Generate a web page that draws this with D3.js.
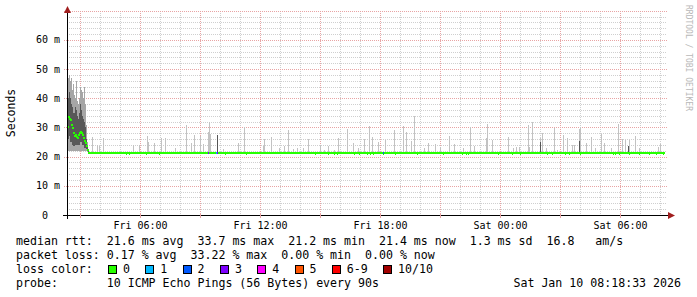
<!DOCTYPE html>
<html>
<head>
<meta charset="utf-8">
<script src="https://cdn.jsdelivr.net/npm/d3@7"></script>
<style>
body { margin: 0; background: #fff; }
text { font-family: "DejaVu Sans Mono", monospace; white-space: pre; }
</style>
</head>
<body>
<script>
// time is minutes after graph start (Fri 02:21), values in ms

// noisy first hour, one column every 3 minutes
var earlyTimes = [0, 3, 6, 9, 12, 15, 18, 21, 24, 27, 30, 33, 36, 39, 42, 45, 48, 51, 54, 57, 60, 63];
var earlyMax = [38, 47, 48, 46, 47, 43, 45, 41, 40, 46, 39, 38, 40, 44, 43, 42, 40, 44, 38, 31, 25, 22.5];
var earlyQ3 = [36, 40, 42, 40, 38, 37, 35, 35, 37, 36, 34, 33, 35, 38, 36, 34, 33, 32, 30, 26, 23.5, 22];
var earlyQ1 = [25, 26, 27, 25, 25, 24, 23.5, 23.5, 24, 24, 24, 24, 24, 25, 25, 24, 24, 23, 23, 22.5, 22, 21.5];
var earlyMin = [22, 22, 22, 22, 22, 22, 22, 22, 22, 22, 22, 22, 22, 22, 22, 22, 22, 22, 22, 22, 21.5, 21.3];
var earlyMedian = [30, 33.7, 33, 32.6, 31, 29.7, 28, 27, 27.5, 26.8, 26.5, 27.4, 28, 28.6, 28, 27.5, 26.3, 25.5, 24.6, 23.5, 22.3, 21.4];

// the long flat stretch
var flatMedian = 21.4;
var flatStart = 63;
var flatEnd = 1795;
var dipTimes = [176, 187, 237, 277, 474, 537, 744, 784, 801, 810, 862, 877, 899, 909, 919, 947, 984, 1049,
  1129, 1184, 1197, 1204, 1294, 1336, 1359, 1439, 1454, 1494, 1507, 1539, 1637, 1643, 1657, 1687, 1717,
  1747, 1767, 1787];
var dipMedian = 21.0;

// smoke spikes above the median
var spikeTimes = [74, 89, 97, 109, 197, 216, 240, 243, 261, 282, 294, 324, 358, 371, 382, 399, 408, 422, 425, 428,
  468, 513, 532, 587, 592, 612, 636, 652, 664, 677, 689, 709, 724, 759, 772, 784, 802, 814, 841, 857,
  874, 892, 907, 916, 934, 954, 981, 1009, 1017, 1032, 1042, 1072, 1082, 1104, 1120, 1147, 1162, 1189,
  1209, 1222, 1256, 1259, 1274, 1324, 1339, 1347, 1357, 1382, 1387, 1396, 1419, 1426, 1436, 1461, 1469,
  1487, 1501, 1514, 1521, 1536, 1539, 1557, 1571, 1584, 1602, 1611, 1632, 1652, 1666, 1675, 1685, 1705,
  1717, 1752, 1774, 1779];
var spikeTops = [26.6, 24.0, 23.5, 26.4, 23.9, 24.0, 27.2, 25.0, 24.8, 26.5, 26.3, 23.1, 30.9, 24.8, 27.4, 27.2, 24.5, 28.6, 31.8, 27.6,
  22.5, 24.6, 30.1, 23.7, 25.9, 26.8, 22.9, 23.8, 29.1, 22.5, 22.9, 23.1, 25.9, 24.0, 22.3, 23.8, 22.3, 26.3, 29.5, 24.6,
  23.1, 26.1, 30.5, 26.7, 25.1, 25.6, 29.0, 30.5, 28.3, 25.4, 33.9, 23.1, 24.8, 24.2, 23.4, 27.1, 24.2, 22.9,
  30.2, 23.8, 26.3, 31.2, 25.7, 26.6, 22.9, 23.4, 23.4, 30.9, 23.4, 31.8, 26.3, 28.0, 23.1, 29.7, 22.3,
  27.4, 26.3, 24.0, 24.0, 29.5, 30.3, 24.6, 26.6, 22.9, 27.8, 24.8, 22.9, 31.2, 25.9, 25.7, 25.7, 27.1,
  23.1, 22.0, 23.4, 24.2];
var darkTimes = [450, 1419, 1536, 1682];
var darkTops = [27.4, 25.0, 25.5, 23.5];

// loss on the median line
var lossTimes = [423, 447, 450, 949];
var lossCounts = [3, 1, 3, 2];

var yTicks = [0, 10, 20, 30, 40, 50, 60];
var lossLabels = ["0", "1", "2", "3", "4", "5", "6-9", "10/10"];
var lossColors = ["#26ff00", "#00b8ff", "#0059ff", "#7e00ff", "#ff00ff", "#ff5500", "#ff0000", "#a10000"];

var legendRtt = "median rtt:  21.6 ms avg  33.7 ms max  21.2 ms min  21.4 ms now  1.3 ms sd  16.8   am/s";
var legendLoss = "packet loss: 0.17 % avg  33.22 % max  0.00 % min  0.00 % now";
var legendProbe = "probe:       10 ICMP Echo Pings (56 Bytes) every 90s";
var stamp = "Sat Jan 10 08:18:33 2026";

var w = 697, h = 297;
var start = new Date(2026, 0, 9, 2, 21);
var end = new Date(2026, 0, 10, 8, 21);
function tm(m) { return new Date(start.getTime() + m * 60000); }

var xScale = d3.scaleTime().domain([start, end]).range([67, 667]);
var yScale = d3.scaleLinear().domain([0, 70]).range([215, 10.8]);

var svg = d3.select('body').append('svg')
    .attr('width', w)
    .attr('height', h)
    .style('display', 'block');

// grid
var grid = svg.append('g').attr('shape-rendering', 'crispEdges');
var hours = d3.timeHour.every(1).range(start, end);
grid.selectAll('line.vx')
    .data(hours)
    .enter().append('line')
    .attr('x1', d => Math.round(xScale(d)) + 0.5)
    .attr('x2', d => Math.round(xScale(d)) + 0.5)
    .attr('y1', 11).attr('y2', 215)
    .attr('stroke', d => d.getHours() % 3 == 0 ? '#e8a4a4' : '#cfcfcf')
    .attr('stroke-dasharray', '1,1');

var ySteps = d3.range(2, 71, 2);
grid.selectAll('line.hy')
    .data(ySteps)
    .enter().append('line')
    .attr('x1', d => d % 10 == 0 ? 64 : 67).attr('x2', 667)
    .attr('y1', d => Math.round(yScale(d)) + 0.5)
    .attr('y2', d => Math.round(yScale(d)) + 0.5)
    .attr('stroke', d => d % 10 == 0 ? '#e8a4a4' : '#cfcfcf')
    .attr('stroke-dasharray', '1,1');

// smoke
var colW = xScale(tm(3)) - xScale(tm(0));
var smoke = svg.append('g').attr('shape-rendering', 'crispEdges');
smoke.selectAll('rect.outer')
    .data(earlyTimes)
    .enter().append('rect')
    .attr('x', d => Math.round(xScale(tm(d))))
    .attr('width', Math.ceil(colW))
    .attr('y', (d, i) => yScale(earlyMax[i]))
    .attr('height', (d, i) => yScale(earlyMin[i]) - yScale(earlyMax[i]))
    .attr('fill', '#a6a6a6');
smoke.selectAll('rect.inner')
    .data(earlyTimes)
    .enter().append('rect')
    .attr('x', d => Math.round(xScale(tm(d))))
    .attr('width', Math.ceil(colW))
    .attr('y', (d, i) => yScale(earlyQ3[i]))
    .attr('height', (d, i) => yScale(earlyQ1[i]) - yScale(earlyQ3[i]))
    .attr('fill', '#585858');

smoke.selectAll('rect.spike')
    .data(spikeTimes)
    .enter().append('rect')
    .attr('x', d => Math.round(xScale(tm(d))))
    .attr('width', 1)
    .attr('y', (d, i) => yScale(spikeTops[i]))
    .attr('height', (d, i) => yScale(flatMedian) - yScale(spikeTops[i]))
    .attr('fill', '#c2c2c2');
smoke.selectAll('rect.dark')
    .data(darkTimes)
    .enter().append('rect')
    .attr('x', d => Math.round(xScale(tm(d))))
    .attr('width', 1)
    .attr('y', (d, i) => yScale(darkTops[i]))
    .attr('height', (d, i) => yScale(flatMedian) - yScale(darkTops[i]))
    .attr('fill', '#555');

// median band
var med = svg.append('g').attr('shape-rendering', 'crispEdges');
function band(y) { return Math.round(y) - 1; }
med.selectAll('rect.em')
    .data(earlyTimes)
    .enter().append('rect')
    .attr('x', d => Math.round(xScale(tm(d))))
    .attr('width', 2)
    .attr('y', (d, i) => band(yScale(earlyMedian[i])))
    .attr('height', 2)
    .attr('fill', lossColors[0]);
med.append('rect')
    .attr('x', Math.round(xScale(tm(flatStart))))
    .attr('width', Math.round(xScale(tm(flatEnd)) - xScale(tm(flatStart))))
    .attr('y', band(yScale(flatMedian)))
    .attr('height', 2)
    .attr('fill', lossColors[0]);
med.selectAll('rect.dip')
    .data(dipTimes)
    .enter().append('rect')
    .attr('x', d => Math.round(xScale(tm(d))))
    .attr('width', 1)
    .attr('y', band(yScale(dipMedian)))
    .attr('height', 2)
    .attr('fill', lossColors[0]);
med.selectAll('rect.loss')
    .data(lossTimes)
    .enter().append('rect')
    .attr('x', d => Math.round(xScale(tm(d))))
    .attr('width', 1)
    .attr('y', band(yScale(flatMedian)))
    .attr('height', 2)
    .attr('fill', (d, i) => lossColors[lossCounts[i]]);

// axes
var ax = svg.append('g').attr('shape-rendering', 'crispEdges');
ax.append('line').attr('x1', 63).attr('x2', 669).attr('y1', 215.5).attr('y2', 215.5).attr('stroke', '#000');
ax.append('line').attr('x1', 67.5).attr('x2', 67.5).attr('y1', 219).attr('y2', 12).attr('stroke', '#000');
ax.selectAll('line.xt')
    .data(hours.filter(d => d.getHours() % 3 == 0))
    .enter().append('line')
    .attr('x1', d => Math.round(xScale(d)) + 0.5)
    .attr('x2', d => Math.round(xScale(d)) + 0.5)
    .attr('y1', 213).attr('y2', 218)
    .attr('stroke', '#e8a4a4');
svg.append('path').attr('d', 'M64,13L67.5,6L71,13Z').attr('fill', '#a01e1e');
svg.append('path').attr('d', 'M668,212L675,215.5L668,219Z').attr('fill', '#a01e1e');

svg.append('g').selectAll('text')
    .data(yTicks)
    .enter().append('text')
    .attr('x', 60)
    .attr('y', d => yScale(d) + 3.5)
    .attr('text-anchor', 'end')
    .attr('font-size', '10px')
    .text(d => d == 0 ? '0  ' : d + ' m');

var labelHours = d3.timeHour.every(6).range(start, end);
svg.append('g').selectAll('text')
    .data(labelHours)
    .enter().append('text')
    .attr('x', d => xScale(d) + 0.5)
    .attr('y', 229)
    .attr('text-anchor', 'middle')
    .attr('font-size', '10px')
    .text(d3.timeFormat('%a %H:%M'));

svg.append('text')
    .attr('transform', 'translate(14.5,113) rotate(-90)')
    .attr('text-anchor', 'middle')
    .attr('font-size', '11.5px')
    .text('Seconds');

svg.append('text')
    .attr('transform', 'translate(686,5) rotate(90)')
    .attr('font-size', '8px')
    .attr('fill', '#b8b8b8')
    .text('RRDTOOL / TOBI OETIKER');

// legend
var lg = svg.append('g').attr('font-size', '11.6px');
lg.append('text').attr('x', 16).attr('y', 245).text(legendRtt);
lg.append('text').attr('x', 16).attr('y', 259).text(legendLoss);
lg.append('text').attr('x', 16).attr('y', 273).text('loss color:');
lg.append('text').attr('x', 16).attr('y', 287).text(legendProbe);
lg.append('text').attr('x', 681).attr('y', 287).attr('text-anchor', 'end').text(stamp);

var bx = 108;
lossLabels.forEach(function(lab, i) {
    lg.append('rect')
        .attr('x', bx + 0.5).attr('y', 265.5)
        .attr('width', 8).attr('height', 8)
        .attr('fill', lossColors[i])
        .attr('stroke', '#000')
        .attr('shape-rendering', 'crispEdges');
    lg.append('text').attr('x', bx + 15).attr('y', 273).text(lab);
    bx = bx + 15 + lab.length * 7 + 15.3;
});
</script>
</body>
</html>
